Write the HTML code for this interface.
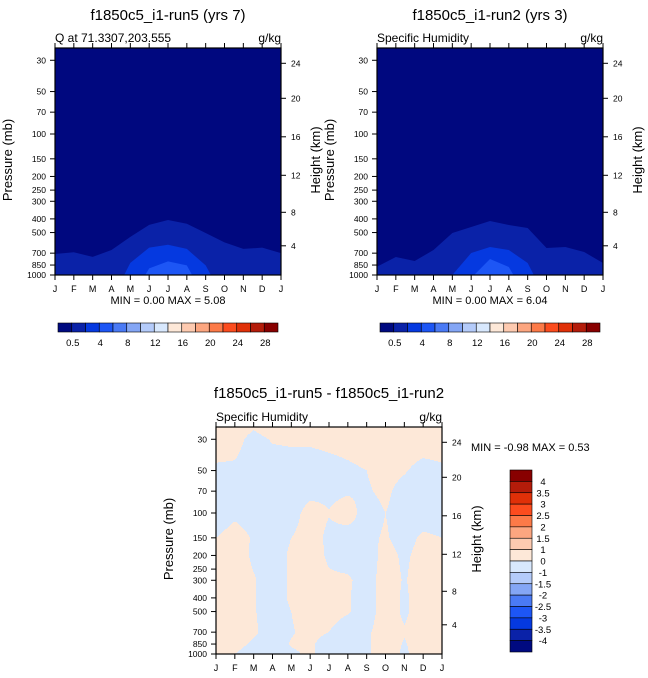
<!DOCTYPE html>
<html><head><meta charset="utf-8"><style>
html,body{margin:0;padding:0;background:#fff;}
svg{display:block;font-family:"Liberation Sans",sans-serif;}
</style></head><body>
<svg id="root" width="648" height="678" viewBox="0 0 648 678" xmlns="http://www.w3.org/2000/svg"></svg>
<script>
// ---------- data ----------
const months = ["J","F","M","A","M","J","J","A","S","O","N","D","J"];
const pressureTicks = [30,50,70,100,150,200,250,300,400,500,700,850,1000];
const heightTicks = [4,8,12,16,20,24];
const heightTickY = [245.5,212,175,136.5,98,63];
// contour boundary pressures (mb) per month, panel run5
const run5_c05 = [709,690,744,665,537,441,407,433,504,587,653,640,700];
const run5_c2  = [1500,1500,1500,1500,820,640,610,653,855,1500,1500,1500,1500];
const run5_c4  = [1500,1500,1500,1500,1500,898,800,855,1500,1500,1500,1500,1500];
// panel run2
const run2_c05 = [873,745,796,665,504,457,414,442,464,643,633,687,822];
const run2_c2  = [1500,1500,1500,1500,1000,698,633,665,822,1500,1500,1500,1500];
const run2_c4  = [1500,1500,1500,1500,1500,1050,770,877,1500,1500,1500,1500,1500];
const bandColors = ["#00087f","#0a22a8","#0539e0","#1d56f5"];
const barColors = ["#000a80","#0a22a8","#0539e0","#1d56f5","#4a7af5","#84a6f5","#b4cbfa","#d8e8fd","#fde8d8","#fdcab0","#fca680","#fc7a48","#fc4c1e","#e03008","#b41c0a","#880000"];
const barLabels = ["0.5","4","8","12","16","20","24","28"];
// difference field
const diffLevels = [25,30,50,70,100,150,200,300,400,500,700,850,1000];
const diffVals = [
 [0.3,0.3,0.05,0.3,0.3,0.3,0.3,0.3,0.3,0.3,0.3,0.3,0.3],
 [0.3,0.2,-0.2,0.05,0.1,0.1,0.15,0.2,0.3,0.3,0.3,0.3,0.3],
 [-0.1,-0.1,-0.3,-0.3,-0.3,-0.3,-0.2,-0.1,0.0,0.2,0.05,-0.2,-0.1],
 [-0.3,-0.3,-0.3,-0.3,-0.3,-0.15,-0.1,-0.05,-0.05,0.1,-0.2,-0.3,-0.3],
 [-0.3,-0.1,-0.2,-0.3,-0.2,0.2,0.02,0.2,-0.2,0.0,-0.2,-0.3,-0.3],
 [0.0,0.2,-0.05,-0.3,0.0,0.2,-0.1,-0.2,-0.1,0.05,-0.2,0.1,0.0],
 [0.2,0.3,-0.1,-0.3,0.1,0.3,-0.1,-0.3,-0.3,0.2,-0.1,0.2,0.3],
 [0.3,0.3,0.05,-0.3,0.1,0.3,0.1,0.1,-0.3,0.3,-0.05,0.3,0.3],
 [0.3,0.3,0.05,-0.3,0.1,0.3,0.2,0.05,-0.3,0.3,-0.1,0.3,0.3],
 [0.3,0.3,0.05,-0.3,0.0,0.3,0.2,0.05,-0.3,0.3,-0.1,0.3,0.3],
 [0.3,0.3,0.1,-0.3,-0.05,0.2,0.0,-0.3,-0.1,0.3,0.05,0.3,0.3],
 [0.3,0.2,-0.1,-0.3,0.05,0.1,-0.3,-0.3,-0.1,0.3,-0.05,0.3,0.3],
 [0.3,0.0,-0.3,-0.3,-0.1,0.1,-0.3,-0.3,-0.1,0.3,-0.1,0.3,0.3]
];
const diffBarColors = ["#880000","#b41c0a","#e03008","#fc4c1e","#fc7a48","#fca680","#fdcab0","#fde8d8","#d8e8fd","#b4cbfa","#84a6f5","#4a7af5","#1d56f5","#0539e0","#0a22a8","#000a80"];
const diffBarLabels = ["4","3.5","3","2.5","2","1.5","1","0","-1","-1.5","-2","-2.5","-3","-3.5","-4"];

// ---------- helpers ----------
const NS="http://www.w3.org/2000/svg";
const root=document.getElementById('root');
function mk(tag,attrs,parent,text){const e=document.createElementNS(NS,tag);for(const k in attrs)e.setAttribute(k,attrs[k]);if(text!==undefined)e.textContent=text;(parent||root).appendChild(e);return e;}
const W=226,H=227;
function axes(x0,y0){
  const xs=i=>x0+i*W/12;
  const ys=p=>y0+H-(3-Math.log10(p))*141;
  return {xs,ys};
}
function frame(g,x0,y0,subL,subR,title,tx,ty){
  const {xs,ys}=axes(x0,y0);
  const t=mk('text',{x:tx,y:ty,'font-size':15,'text-anchor':'middle'},g,title);
  
  
  const s1=mk('text',{x:x0,y:y0-6,'font-size':12},g,subL);
  
  
  const s2=mk('text',{x:x0+W,y:y0-6,'font-size':12,'text-anchor':'end'},g,subR);
  
  
  mk('rect',{x:x0,y:y0,width:W,height:H,fill:'none',stroke:'#000','stroke-width':1.2},g);
  const xa=mk('g',{},g);
  
  
  months.forEach((m,i)=>{
    const x=xs(i);
    mk('line',{x1:x,y1:y0+H,x2:x,y2:y0+H+5,stroke:'#000'},xa);
    mk('line',{x1:x,y1:y0,x2:x,y2:y0-5,stroke:'#000'},xa);
    const l=mk('text',{x:x,y:y0+H+17,'font-size':9,'text-anchor':'middle'},xa,m);
    
    
  });
  const ya=mk('g',{},g);
  
  
  pressureTicks.forEach(p=>{
    const y=ys(p);
    mk('line',{x1:x0-5,y1:y,x2:x0,y2:y,stroke:'#000'},ya);
    const l=mk('text',{x:x0-9,y:y+3,'font-size':8.5,'text-anchor':'end'},ya,String(p));
    
    
  });
  const ha=mk('g',{},g);
  
  
  heightTicks.forEach((h,i)=>{
    const y=y0+(heightTickY[i]-48)+0.3;
    mk('line',{x1:x0+W,y1:y,x2:x0+W+5,y2:y,stroke:'#000'},ha);
    const l=mk('text',{x:x0+W+10,y:y+3,'font-size':8.5},ha,String(h));
    
    
  });
  const yl=mk('text',{x:0,y:0,'font-size':13,'text-anchor':'middle',transform:`translate(${x0-43},${y0+112}) rotate(-90)`},g,'Pressure (mb)');
  
  
  const hl=mk('text',{x:0,y:0,'font-size':13,'text-anchor':'middle',transform:`translate(${x0+W+39},${y0+112}) rotate(-90)`},g,'Height (km)');
  
  
}
function bandPoly(g,x0,y0,arr,color,name){
  const {xs,ys}=axes(x0,y0);
  let pts=arr.map((p,i)=>xs(i).toFixed(2)+','+ys(p).toFixed(2));
  pts.push(xs(12)+','+(y0+H+200),xs(0)+','+(y0+H+200));
  const pl=mk('polygon',{points:pts.join(' '),fill:color},g);
  
  
}
function topPanel(x0,y0,c05,c2,c4,title,sub,mn,mx,tx,name){
  const g=mk('g',{},root);
  
  
  mk('clipPath',{id:'cp'+name},g);
  const cp=g.lastChild;
  mk('rect',{x:x0,y:y0,width:W,height:H},cp);
  const fg=mk('g',{'clip-path':`url(#cp${name})`},g);
  mk('rect',{x:x0,y:y0,width:W,height:H,fill:bandColors[0]},fg);
  bandPoly(fg,x0,y0,c05,bandColors[1],'contour-band-0.5-2');
  bandPoly(fg,x0,y0,c2,bandColors[2],'contour-band-2-4');
  bandPoly(fg,x0,y0,c4,bandColors[3],'contour-band-4-6');
  frame(g,x0,y0,sub,'g/kg',title,tx,20);
  const m=mk('text',{x:x0+W/2,y:y0+H+29,'font-size':11,'text-anchor':'middle'},g,`MIN =   ${mn} MAX =   ${mx}`);
  
  
  const cb=mk('g',{},g);
  
  
  const bx=x0+3,bw=220/16;
  barColors.forEach((c,i)=>{
    const r=mk('rect',{x:bx+i*bw,y:323,width:bw,height:9,fill:c,stroke:'#000','stroke-width':0.6},cb);
    
    
  });
  barLabels.forEach((l,i)=>{
    const t=mk('text',{x:bx+(2*i+1)*bw+1,y:346,'font-size':9.5,'text-anchor':'middle'},cb,l);
    
    
  });
}
topPanel(55,48,run5_c05,run5_c2,run5_c4,'f1850c5_i1-run5 (yrs 7)','Q at 71.3307,203.555','0.00','5.08',168,'panel-run5');
topPanel(377,48,run2_c05,run2_c2,run2_c4,'f1850c5_i1-run2 (yrs 3)','Specific Humidity','0.00','6.04',490,'panel-run2');

// difference panel
(function(){
  const x0=216,y0=427;
  const g=mk('g',{},root);
  
  
  const fg=mk('g',{},g);
  
  
  const logL=diffLevels.map(p=>Math.log10(p));
  const step=1;
  for(let yy=y0;yy<y0+H;yy+=step){
    const lp=3-((y0+H)-(yy+step/2))/141;
    let k=0;while(k<logL.length-2&&lp>logL[k+1])k++;
    let t=(lp-logL[k])/(logL[k+1]-logL[k]);t=Math.max(0,Math.min(1,t));
    let runStart=x0,runSign=null;
    const flush=(xe)=>{
      const r=mk('rect',{x:runStart,y:yy,width:xe-runStart+0.3,height:step+0.3,fill:runSign?'#fde8d8':'#d8e8fd'},fg);
      
      
    };
    for(let xx=x0;xx<x0+W;xx+=step){
      const mi=(xx+step/2-x0)/(W/12);
      const i=Math.min(11,Math.floor(mi));const u=mi-i;
      const a=diffVals[k][i]*(1-u)+diffVals[k][i+1]*u;
      const b=diffVals[k+1][i]*(1-u)+diffVals[k+1][i+1]*u;
      const v=a*(1-t)+b*t;
      const s=v>=0;
      if(runSign===null){runSign=s;runStart=xx;}
      else if(s!==runSign){flush(xx);runSign=s;runStart=xx;}
    }
    flush(x0+W);
  }
  frame(g,x0,y0,'Specific Humidity','g/kg','f1850c5_i1-run5 - f1850c5_i1-run2',329,398);
  const m=mk('text',{x:471,y:451,'font-size':11},g,'MIN =  -0.98 MAX =   0.53');
  
  
  const cb=mk('g',{},g);
  
  
  const by=470,bh=182/16;
  diffBarColors.forEach((c,i)=>{
    const r=mk('rect',{x:510,y:by+i*bh,width:22,height:bh,fill:c,stroke:'#000','stroke-width':0.6},cb);
    
    
  });
  diffBarLabels.forEach((l,i)=>{
    const t=mk('text',{x:543,y:by+(i+1)*bh+3.5,'font-size':9.5,'text-anchor':'middle'},cb,l);
    
    
  });
})();
</script>
</body></html>
